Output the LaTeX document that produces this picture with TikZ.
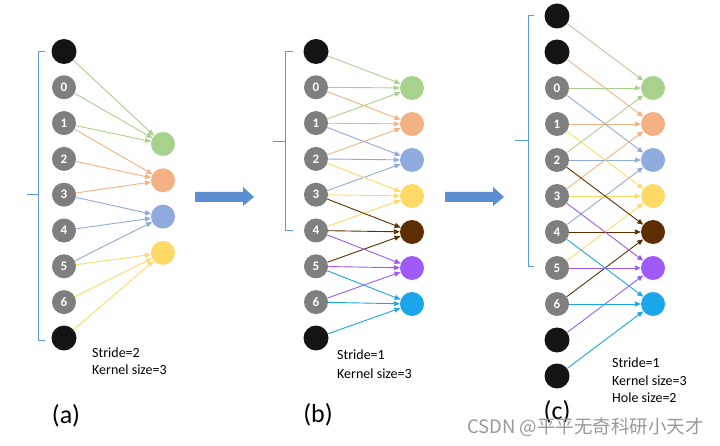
\documentclass[tikz,border=0pt]{standalone}
\usepackage{fontspec}
\setmainfont{Carlito}
\newfontfamily\cjkfont{Noto Sans CJK SC}
\usetikzlibrary{arrows.meta}
\definecolor{cgreen}{HTML}{A9D18E}
\definecolor{corange}{HTML}{F4B183}
\definecolor{cblue}{HTML}{8FAADC}
\definecolor{cyellow}{HTML}{FFD966}
\definecolor{cbrown}{HTML}{5C2E00}
\definecolor{cpurple}{HTML}{A05AF8}
\definecolor{ccyan}{HTML}{1AA6E8}
\definecolor{cgray}{HTML}{7F7F7F}
\definecolor{cblk}{HTML}{141414}
\definecolor{brkblue}{HTML}{5B9BD5}
\definecolor{arrblue}{HTML}{5B8FD0}
\begin{document}
\begin{tikzpicture}[x=1pt,y=-1pt,
  blk/.style={circle,fill=cblk,minimum size=25pt,inner sep=0pt},
  gry/.style={circle,fill=cgray,minimum size=24pt,inner sep=0pt,text=white,font=\bfseries\fontsize{13}{13}\selectfont},
  outc/.style={circle,fill=#1,minimum size=24pt,inner sep=0pt},
  conn/.style={line width=0.9pt,draw=#1,-{Triangle[length=6pt,width=5pt,fill=#1]}},
  brk/.style={draw=brkblue,line width=1pt},
  txt/.style={anchor=base west,inner sep=0pt,font=\fontsize{14}{16}\selectfont},
  lab/.style={inner sep=0pt,font=\fontsize{26}{30}\selectfont},
  bigarr/.style={fill=arrblue}]
\fill[white] (0,0) rectangle (720,446);
\useasboundingbox (0,0) rectangle (720,446);

% ---------- panel (a) ----------
\node[blk] (a-0) at (64,51.5) {};
\foreach \n [count=\c] in {0,...,6} \node[gry] (a-\c) at (64,{51.5+35.8*\c}) {\n};
\node[blk] (a-8) at (64,338) {};
\foreach \k/\col in {0/cgreen,1/corange,2/cblue,3/cyellow}
  \node[outc=\col] (ao-\k) at (163,{144+36.3*\k}) {};
\foreach \k/\col in {0/cgreen,1/corange,2/cblue,3/cyellow}
  \foreach \d in {0,1,2} {
    \pgfmathtruncatemacro\src{2*\k+\d}
    \draw[conn=\col] (a-\src) -- (ao-\k);
  }
\draw[brk] (45,52) -- (38,52) -- (38,340) -- (45,340);
\draw[brk] (38,195) -- (27,195);
\node[txt] (sa) at (92,357) {Stride=2};
\node[txt] (ka) at (92,374) {Kernel size=3};
\node[lab] (la) at (66,416) {(a)};

% big arrow 1
\fill[bigarr] (195,192) -- (243,192) -- (243,187) -- (254,197) -- (243,206) -- (243,202) -- (195,202) -- cycle;

% ---------- panel (b) ----------
\node[blk] (b-0) at (316,51.5) {};
\foreach \n [count=\c] in {0,...,6} \node[gry] (b-\c) at (316,{51.5+35.8*\c}) {\n};
\node[blk] (b-8) at (316,338) {};
\foreach \k/\col in {0/cgreen,1/corange,2/cblue,3/cyellow,4/cbrown,5/cpurple,6/ccyan}
  \node[outc=\col] (bo-\k) at (412,{88+36*\k}) {};
\foreach \k/\col in {0/cgreen,1/corange,2/cblue,3/cyellow,4/cbrown,5/cpurple,6/ccyan}
  \foreach \d in {0,1,2} {
    \pgfmathtruncatemacro\src{\k+\d}
    \draw[conn=\col] (b-\src) -- (bo-\k);
  }
\draw[brk] (293,52) -- (285,52) -- (285,231) -- (293,231);
\draw[brk] (285,142) -- (273,142);
\node[txt] (sb) at (337,359) {Stride=1};
\node[txt] (kb) at (337,378) {Kernel size=3};
\node[lab] (lb) at (318,415) {(b)};

% big arrow 2
\fill[bigarr] (445,192) -- (493,192) -- (493,187) -- (504,197) -- (493,206) -- (493,202) -- (445,202) -- cycle;

% ---------- panel (c) ----------
\node[blk] (c-0) at (557,16) {};
\node[blk] (c-1) at (557,52) {};
\foreach \n in {0,...,6} {
  \pgfmathtruncatemacro\idx{\n+2}
  \node[gry] (c-\idx) at (557,{16+36*\idx}) {\n};
}
\node[blk] (c-9) at (557,340) {};
\node[blk] (c-10) at (557,376) {};
\foreach \k/\col in {0/cgreen,1/corange,2/cblue,3/cyellow,4/cbrown,5/cpurple,6/ccyan}
  \node[outc=\col] (co-\k) at (653,{88+36*\k}) {};
\foreach \k/\col in {0/cgreen,1/corange,2/cblue,3/cyellow,4/cbrown,5/cpurple,6/ccyan}
  \foreach \d in {0,2,4} {
    \pgfmathtruncatemacro\src{\k+\d}
    \draw[conn=\col] (c-\src) -- (co-\k);
  }
\draw[brk] (534,16) -- (528,16) -- (528,267) -- (534,267);
\draw[brk] (528,141) -- (515,141);
\node[txt] (sc) at (612,367) {Stride=1};
\node[txt] (kc) at (612,385) {Kernel size=3};
\node[txt] (hc) at (612,402) {Hole size=2};
\node[lab] (lc) at (557,412) {(c)};

% watermark
\node[anchor=east,inner sep=0pt,text=black!40,font=\cjkfont\fontsize{18.5}{20}\selectfont] (wm) at (704,427) {CSDN @平平无奇科研小天才};
\end{tikzpicture}
\end{document}
